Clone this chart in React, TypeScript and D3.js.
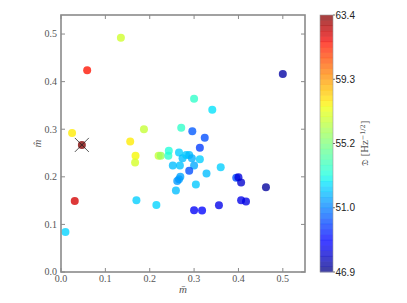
import React from 'react';
import * as d3 from 'd3';

// m-bar (x), m-hat (y), D value (colour)
const mBar = [0.135, 0.059, 0.025, 0.156, 0.187, 0.271, 0.300, 0.296, 0.341, 0.500,
  0.324, 0.313, 0.168, 0.167, 0.220, 0.225, 0.242, 0.243, 0.266, 0.274,
  0.282, 0.289, 0.295, 0.313, 0.252, 0.268, 0.300, 0.289, 0.328, 0.360,
  0.269, 0.266, 0.262, 0.304, 0.259, 0.215, 0.170, 0.010, 0.031, 0.300,
  0.318, 0.356, 0.395, 0.400, 0.406, 0.462, 0.406, 0.417, 0.047];
const mHat = [0.492, 0.424, 0.292, 0.274, 0.300, 0.303, 0.364, 0.296, 0.341, 0.416,
  0.282, 0.261, 0.244, 0.230, 0.244, 0.244, 0.244, 0.255, 0.251, 0.239,
  0.246, 0.246, 0.239, 0.237, 0.224, 0.224, 0.224, 0.213, 0.207, 0.220,
  0.200, 0.195, 0.191, 0.184, 0.171, 0.141, 0.151, 0.084, 0.149, 0.130,
  0.129, 0.140, 0.198, 0.199, 0.188, 0.178, 0.151, 0.148, 0.267];
const dVal = [56.8, 61.6, 57.8, 57.8, 56.6, 53.6, 53.6, 50.4, 52.6, 47.4,
  50.2, 49.9, 57.6, 56.9, 56.6, 55.8, 53.5, 53.3, 52.3, 52.0,
  52.2, 52.0, 51.8, 52.3, 52.0, 52.1, 51.7, 50.2, 52.0, 52.3,
  51.6, 51.5, 51.4, 52.2, 52.0, 52.4, 52.3, 52.4, 62.2, 48.6,
  49.0, 48.4, 50.2, 48.2, 48.0, 47.3, 48.4, 48.3, 63.4];

// the marked point
const best = { m: 0.047, h: 0.267 };

const xTicks = [0.0, 0.1, 0.2, 0.3, 0.4, 0.5];
const yTicks = [0.0, 0.1, 0.2, 0.3, 0.4, 0.5];
const cbTicks = [46.9, 51.025, 55.15, 59.275, 63.4];
const cbLabels = ['46.9', '51.0', '55.2', '59.3', '63.4'];
const dMin = 46.9;
const dMax = 63.4;

// matplotlib jet
const jetR = d3.scaleLinear<number>().domain([0, 0.35, 0.66, 0.89, 1]).range([0, 0, 1, 1, 0.5]).clamp(true);
const jetG = d3.scaleLinear<number>().domain([0, 0.125, 0.375, 0.64, 0.91, 1]).range([0, 0, 1, 1, 0, 0]).clamp(true);
const jetB = d3.scaleLinear<number>().domain([0, 0.11, 0.34, 0.65, 1]).range([0.5, 1, 1, 0, 0]).clamp(true);
const jet = (t: number) => d3.rgb(jetR(t) * 255, jetG(t) * 255, jetB(t) * 255).toString();

const App = () => {
  const W = 407, H = 303;
  const left = 61, right = 305, top = 15, bottom = 272;
  const x = d3.scaleLinear().domain([0, 0.55]).range([left, right]);
  const y = d3.scaleLinear().domain([0, 0.54]).range([bottom, top]);
  const cNorm = d3.scaleLinear().domain([dMin, dMax]).range([0, 1]);
  const cbY = d3.scaleLinear().domain([dMin, dMax]).range([bottom, top]);
  const cbX = 320, cbW = 13;

  const bands = d3.range(48).map(i => dMin + (i / 48) * (dMax - dMin));
  const bandStep = (dMax - dMin) / 48;

  const serif = '"Liberation Serif", "DejaVu Serif", serif';
  const tickCol = '#555';
  const axisCol = '#8a8a8a';

  return (
    <svg width={W} height={H} style={{ position: 'absolute', left: 0, top: 0 }}>
      <rect x={0} y={0} width={W} height={H} fill="#fff" />

      {/* points */}
      {mBar.map((m, i) => (
        <circle key={i} cx={x(m)} cy={y(mHat[i])} r={4}
          fill={jet(cNorm(dVal[i]))} fillOpacity={0.78} />
      ))}

      {/* best marker */}
      <g stroke="#222" strokeWidth={0.9} opacity={0.85}>
        <line x1={x(best.m) - 7} y1={y(best.h) - 7} x2={x(best.m) + 7} y2={y(best.h) + 7} />
        <line x1={x(best.m) - 7} y1={y(best.h) + 7} x2={x(best.m) + 7} y2={y(best.h) - 7} />
      </g>

      {/* frame */}
      <rect x={left} y={top} width={right - left} height={bottom - top}
        fill="none" stroke={axisCol} strokeWidth={1.6} />

      {/* ticks */}
      {xTicks.map(t => (
        <g key={'x' + t}>
          <line x1={x(t)} x2={x(t)} y1={bottom} y2={bottom - 4} stroke={axisCol} />
          <line x1={x(t)} x2={x(t)} y1={top} y2={top + 4} stroke={axisCol} />
          <text x={x(t)} y={282} textAnchor="middle" fontFamily={serif} fontSize={10}
            fill={tickCol}>{t.toFixed(1)}</text>
        </g>
      ))}
      {yTicks.map(t => (
        <g key={'y' + t}>
          <line x1={left} x2={left + 4} y1={y(t)} y2={y(t)} stroke={axisCol} />
          <line x1={right} x2={right - 4} y1={y(t)} y2={y(t)} stroke={axisCol} />
          <text x={57} y={y(t) + 3.4} textAnchor="end" fontFamily={serif} fontSize={10}
            fill={tickCol}>{t.toFixed(1)}</text>
        </g>
      ))}

      {/* axis labels */}
      <text x={(left + right) / 2} y={293} textAnchor="middle" fontFamily={serif}
        fontSize={11} fontStyle="italic" fill={tickCol}>m̄</text>
      <text transform={`translate(41,${(top + bottom) / 2}) rotate(-90)`} textAnchor="middle"
        fontFamily={serif} fontSize={11} fontStyle="italic" fill={tickCol}>m̂</text>

      {/* colorbar */}
      {bands.map((b, i) => (
        <rect key={i} x={cbX} width={cbW} y={cbY(b + bandStep)} height={cbY(b) - cbY(b + bandStep) + 0.3}
          fill={jet(cNorm(b + bandStep / 2))} fillOpacity={0.75} />
      ))}
      <rect x={cbX} y={top} width={cbW} height={bottom - top} fill="none" stroke="#999" strokeWidth={0.6} />
      {cbTicks.map((t, i) => (
        <g key={'c' + i}>
          <line x1={cbX + cbW} x2={cbX + cbW + 2} y1={cbY(t)} y2={cbY(t)} stroke="#333" strokeWidth={0.7} />
          <text x={cbX + cbW + 2.5} y={cbY(t) + 3.5} fontFamily='"Liberation Sans", Arial, sans-serif'
            fontSize={10} fill="#222">{cbLabels[i]}</text>
        </g>
      ))}
      <text transform={`translate(368,${(top + bottom) / 2}) rotate(-90)`} textAnchor="middle"
        fontFamily='"DejaVu Serif", serif' fontSize={9} fill={tickCol}>
        𝔇 [Hz<tspan dy={-3} fontSize={6.5}>−1/2</tspan><tspan dy={3}>]</tspan>
      </text>
    </svg>
  );
};

export default App;
